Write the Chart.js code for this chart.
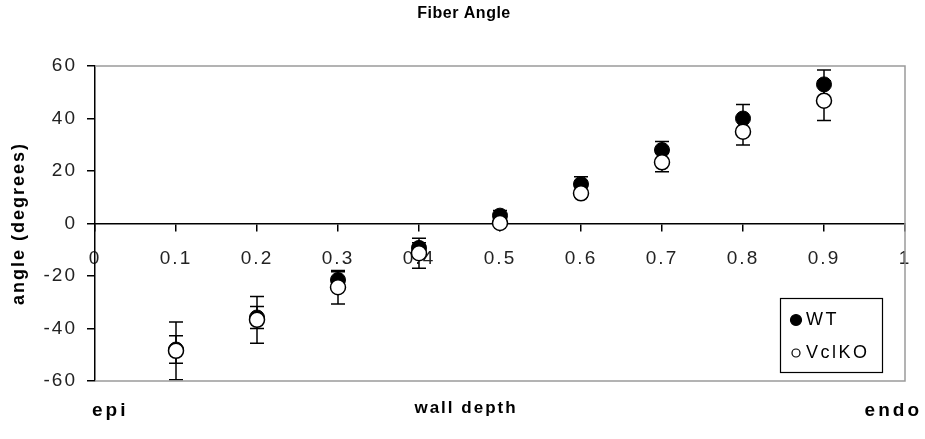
<!DOCTYPE html>
<html lang="en">
<head>
  <meta charset="UTF-8" />
  <title>Fiber Angle</title>
  <script src="https://cdn.jsdelivr.net/npm/chart.js"></script>
  <style>
    body { margin: 0; background: #fff; }
    #wrap { width: 925px; height: 439px; }
  </style>
</head>
<body>
  <div id="wrap"><canvas id="fiberChart"></canvas></div>

  <script>
    // wall depth positions (fraction from epi to endo)
    const depth = [0.1, 0.2, 0.3, 0.4, 0.5, 0.6, 0.7, 0.8, 0.9];
    const wtAngle = [-48, -35.8, -21.5, -9.3, 3, 15, 28, 40, 53];
    const wtErr = [5.2, 4.2, 3.1, 2, 2, 2.8, 3.2, 5.3, 5.5];
    const koAngle = [-48.5, -36.7, -24.3, -11.3, 0.2, 11.5, 23.3, 35, 46.8];
    const koErr = [11, 8.9, 6.4, 5.7, 1, 1.5, 3.6, 5.1, 7.6];
    const xTickLabels = ["0", "0.1", "0.2", "0.3", "0.4", "0.5", "0.6", "0.7", "0.8", "0.9", "1"];
    const yTickLabels = ["-60", "-40", "-20", "0", "20", "40", "60"];

    const FONT = "'Liberation Sans', Arial, sans-serif";

    const toPoints = (ys) => depth.map((d, i) => ({ x: d, y: ys[i] }));

    // the old spreadsheet look has wide letter spacing on the axis text
    const spacing = {
      id: "spacing",
      beforeUpdate(chart) { chart.ctx.letterSpacing = "2px"; },
      beforeDraw(chart) { chart.ctx.letterSpacing = "2px"; }
    };

    // vertical error bars, drawn under the markers
    const errorBars = {
      id: "errorBars",
      beforeDatasetsDraw(chart) {
        const { ctx, scales: { x, y } } = chart;
        const sets = [[wtAngle, wtErr], [koAngle, koErr]];
        ctx.save();
        ctx.strokeStyle = "#000";
        ctx.lineWidth = 1.5;
        sets.forEach(([vals, errs]) => {
          depth.forEach((d, i) => {
            const px = x.getPixelForValue(d);
            const top = y.getPixelForValue(vals[i] + errs[i]);
            const bot = y.getPixelForValue(vals[i] - errs[i]);
            ctx.beginPath();
            ctx.moveTo(px, top); ctx.lineTo(px, bot);
            ctx.moveTo(px - 7, top); ctx.lineTo(px + 7, top);
            ctx.moveTo(px - 7, bot); ctx.lineTo(px + 7, bot);
            ctx.stroke();
          });
        });
        ctx.restore();
      }
    };

    // plot frame, title, bottom captions and the boxed legend
    const decorations = {
      id: "decorations",
      beforeDatasetsDraw(chart) {
        const { ctx, chartArea: a } = chart;
        ctx.save();
        ctx.strokeStyle = "#9a9a9a";
        ctx.lineWidth = 1.5;
        ctx.beginPath();
        ctx.moveTo(a.left, a.top); ctx.lineTo(a.right, a.top);
        ctx.lineTo(a.right, a.bottom); ctx.lineTo(a.left, a.bottom);
        ctx.stroke();
        ctx.restore();
      },
      afterDraw(chart) {
        const { ctx } = chart;
        ctx.save();
        ctx.fillStyle = "#000";
        ctx.textBaseline = "middle";

        ctx.letterSpacing = "0.5px";
        ctx.font = "bold 16px " + FONT;
        ctx.textAlign = "center";
        ctx.fillText("Fiber Angle", 464, 14);

        ctx.letterSpacing = "2px";
        ctx.font = "bold 17px " + FONT;
        ctx.fillText("wall depth", 466, 408);
        ctx.font = "bold 19px " + FONT;
        ctx.letterSpacing = "3px";
        ctx.textAlign = "left";
        ctx.fillText("epi", 92, 411);
        ctx.textAlign = "right";
        ctx.fillText("endo", 922, 411);

        // legend
        const bx = 780, by = 298, bw = 102, bh = 74;
        ctx.strokeStyle = "#000";
        ctx.lineWidth = 1.2;
        ctx.strokeRect(bx + 0.5, by + 0.5, bw, bh);
        ctx.font = "18px " + FONT;
        ctx.textAlign = "left";
        ctx.letterSpacing = "2.5px";
        const rows = [{ cy: 320, r: 5.5 }, { cy: 353, r: 4 }];
        chart.data.datasets.forEach((ds, i) => {
          const { cy, r } = rows[i];
          ctx.beginPath();
          ctx.arc(bx + 16, cy, r, 0, Math.PI * 2);
          ctx.fillStyle = ds.backgroundColor;
          ctx.fill();
          ctx.lineWidth = 1.2;
          ctx.stroke();
          ctx.fillStyle = "#000";
          ctx.fillText(ds.label, bx + 26, cy);
        });
        ctx.restore();
      }
    };

    new Chart(document.getElementById("fiberChart"), {
      type: "scatter",
      data: {
        datasets: [
          {
            label: "WT",
            data: toPoints(wtAngle),
            backgroundColor: "#000",
            borderColor: "#000",
            borderWidth: 1,
            pointRadius: 7.5,
            order: 2
          },
          {
            label: "VclKO",
            data: toPoints(koAngle),
            backgroundColor: "#fff",
            borderColor: "#000",
            borderWidth: 1.5,
            pointRadius: 7.5,
            order: 1
          }
        ]
      },
      options: {
        responsive: true,
        maintainAspectRatio: false,
        animation: false,
        layout: { padding: { top: 66, left: 0, right: 20, bottom: 58 } },
        plugins: {
          legend: { display: false },
          title: { display: false },
          tooltip: { enabled: false }
        },
        scales: {
          x: {
            type: "linear",
            position: { y: 0 },
            min: 0,
            max: 1,
            // end labels may hang past the frame; keep the frame at 95..905
            afterFit(scale) { scale.paddingLeft = 0; scale.paddingRight = 0; },
            ticks: {
              stepSize: 0.1,
              padding: 17,
              color: "#222",
              font: { family: FONT, size: 19 },
              maxRotation: 0,
              autoSkip: false,
              callback: (v, i) => xTickLabels[i]
            },
            grid: { drawOnChartArea: false, tickLength: 7, color: "#000", lineWidth: 1.5 },
            border: { color: "#000", width: 1.5 }
          },
          y: {
            min: -60,
            max: 60,
            afterFit(scale) { scale.width = 95; },
            ticks: {
              stepSize: 20,
              padding: 10,
              color: "#222",
              font: { family: FONT, size: 19 },
              callback: (v, i) => yTickLabels[i]
            },
            grid: { drawOnChartArea: false, tickLength: 8, color: "#000", lineWidth: 1.5 },
            border: { color: "#000", width: 1.5 },
            title: {
              display: true,
              text: "angle (degrees)",
              color: "#000",
              padding: { top: 8, bottom: 0 },
              font: { family: FONT, size: 18, weight: "bold" }
            }
          }
        }
      },
      plugins: [spacing, errorBars, decorations]
    });
  </script>
</body>
</html>
